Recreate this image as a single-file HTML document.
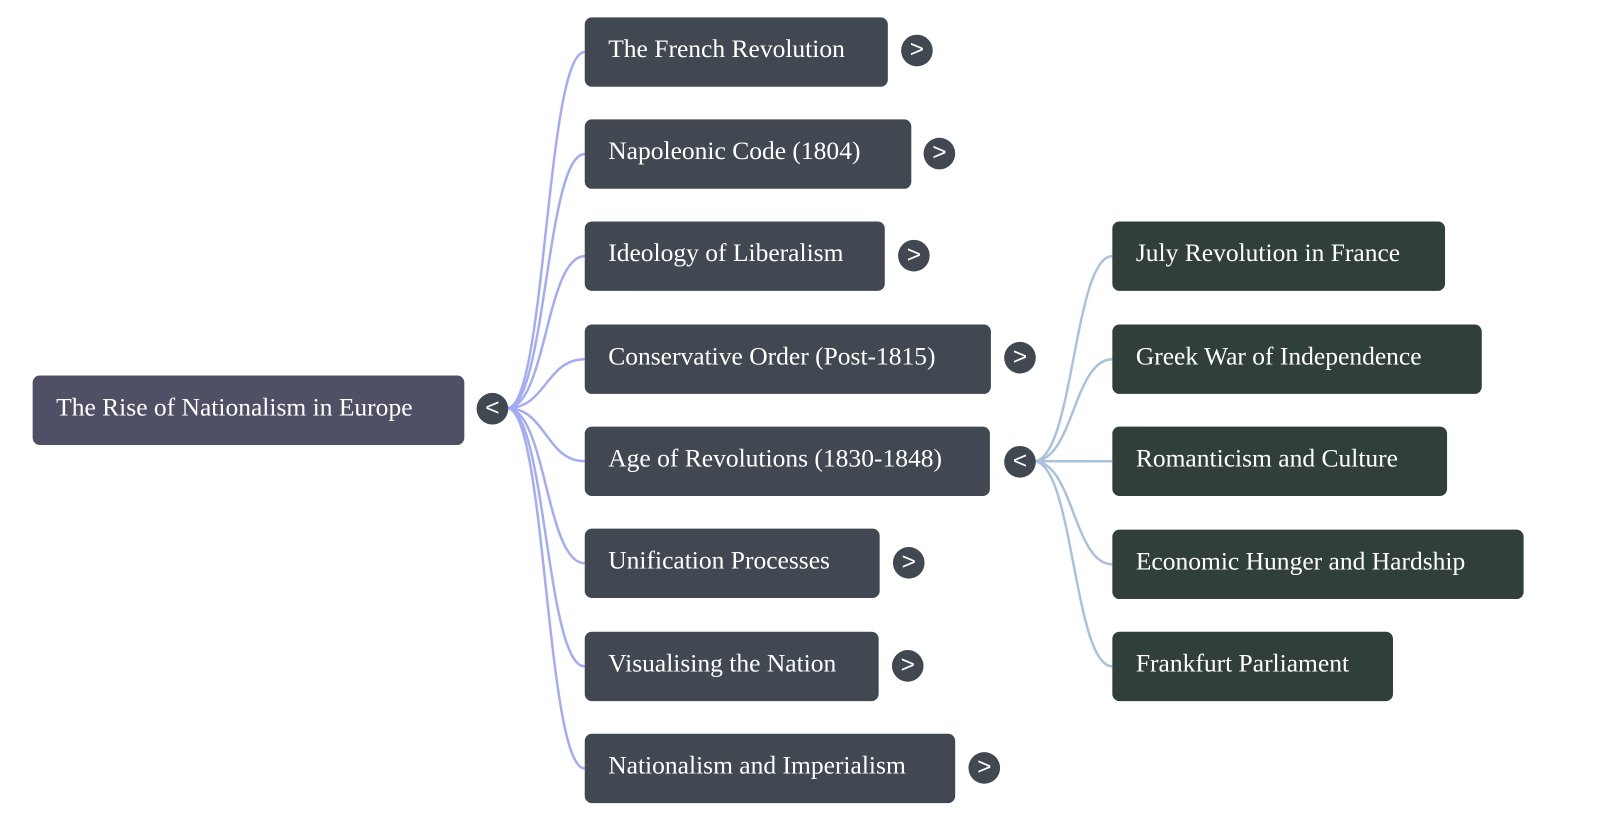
<!DOCTYPE html>
<html><head><meta charset="utf-8"><style>
body{margin:0;width:1600px;height:820px;background:#fff;position:relative;overflow:hidden;font-family:"Liberation Serif",serif;}
#w{position:absolute;left:0;top:0;width:1562px;height:800px;transform:scale(1.0205);transform-origin:0 0;}
.n{position:absolute;height:68px;border-radius:7px;color:#fff;font-size:25px;line-height:64px;padding-left:23px;box-sizing:border-box;white-space:nowrap;}
.r{background:#4f5066}.a{background:#414852}.b{background:#313f3b}
.t{position:absolute;width:31px;height:31px;border-radius:50%;background:#414852;color:#fff;font-family:"Liberation Sans",sans-serif;font-size:24px;line-height:29px;text-align:center;}
svg{position:absolute;left:0;top:0}
</style></head><body><div id="w">
<svg width="1562" height="800" fill="none" stroke-width="2.4">
<g stroke="#a3abf5">
<path d="M497 400 C535 400 535 51 573 51"/>
<path d="M497 400 C535 400 535 151 573 151"/>
<path d="M497 400 C535 400 535 251 573 251"/>
<path d="M497 400 C535 400 535 352 573 352"/>
<path d="M497 400 C535 400 535 452 573 452"/>
<path d="M497 400 C535 400 535 552 573 552"/>
<path d="M497 400 C535 400 535 653 573 653"/>
<path d="M497 400 C535 400 535 753 573 753"/>
</g>
<g stroke="#a9c1dd">
<path d="M1013 452 C1052 452 1052 251 1090 251"/>
<path d="M1013 452 C1052 452 1052 352 1090 352"/>
<path d="M1013 452 L1090 452"/>
<path d="M1013 452 C1052 452 1052 553 1090 553"/>
<path d="M1013 452 C1052 452 1052 653 1090 653"/>
</g>
</svg>
<div class="n r" style="left:32px;top:368px;width:423px">The Rise of Nationalism in Europe</div>
<div class="t" style="left:467px;top:385px">&lt;</div>
<div class="n a" style="left:573px;top:17px;width:297px">The French Revolution</div>
<div class="t" style="left:883px;top:34px">&gt;</div>
<div class="n a" style="left:573px;top:117px;width:320px">Napoleonic Code (1804)</div>
<div class="t" style="left:905px;top:135px">&gt;</div>
<div class="n a" style="left:573px;top:217px;width:294px">Ideology of Liberalism</div>
<div class="t" style="left:880px;top:235px">&gt;</div>
<div class="n a" style="left:573px;top:318px;width:398px">Conservative Order (Post-1815)</div>
<div class="t" style="left:984px;top:335px">&gt;</div>
<div class="n a" style="left:573px;top:418px;width:397px">Age of Revolutions (1830-1848)</div>
<div class="t" style="left:984px;top:437px">&lt;</div>
<div class="n a" style="left:573px;top:518px;width:289px">Unification Processes</div>
<div class="t" style="left:875px;top:536px">&gt;</div>
<div class="n a" style="left:573px;top:619px;width:288px">Visualising the Nation</div>
<div class="t" style="left:874px;top:637px">&gt;</div>
<div class="n a" style="left:573px;top:719px;width:363px">Nationalism and Imperialism</div>
<div class="t" style="left:949px;top:737px">&gt;</div>
<div class="n b" style="left:1090px;top:217px;width:326px">July Revolution in France</div>
<div class="n b" style="left:1090px;top:318px;width:362px">Greek War of Independence</div>
<div class="n b" style="left:1090px;top:418px;width:328px">Romanticism and Culture</div>
<div class="n b" style="left:1090px;top:519px;width:403px">Economic Hunger and Hardship</div>
<div class="n b" style="left:1090px;top:619px;width:275px">Frankfurt Parliament</div>
</div></body></html>
